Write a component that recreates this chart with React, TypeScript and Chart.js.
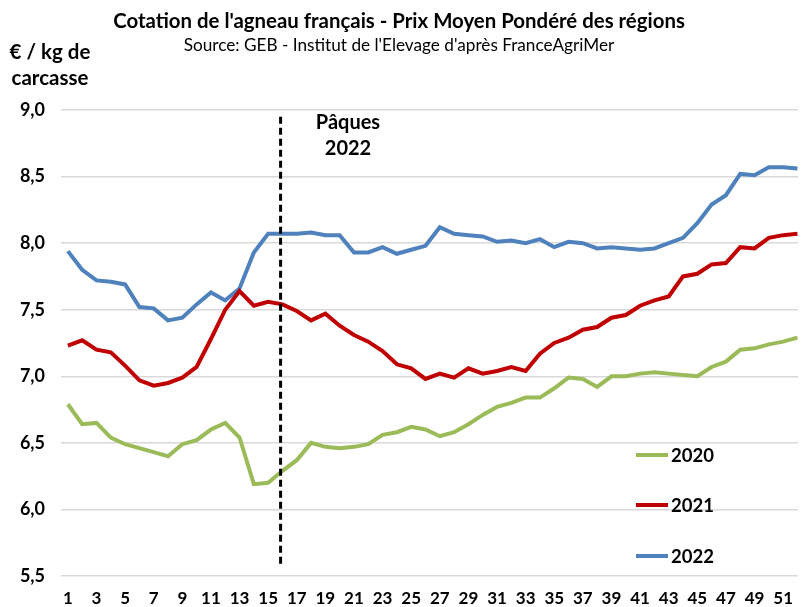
import React, { useEffect, useRef } from "react";
import { Chart, registerables } from "chart.js";

Chart.register(...registerables);

const weeks: number[] = Array.from({ length: 52 }, (_, i) => i + 1);
const xTickLabels: number[] = [1, 3, 5, 7, 9, 11, 13, 15, 17, 19, 21, 23, 25, 27, 29, 31, 33, 35, 37, 39, 41, 43, 45, 47, 49, 51];
const yTicks: number[] = [5.5, 6.0, 6.5, 7.0, 7.5, 8.0, 8.5, 9.0];

const series2020: number[] = [
  6.79, 6.64, 6.65, 6.54, 6.49, 6.46, 6.43, 6.40, 6.49, 6.52,
  6.60, 6.65, 6.54, 6.19, 6.20, 6.29, 6.37, 6.50, 6.47, 6.46,
  6.47, 6.49, 6.56, 6.58, 6.62, 6.60, 6.55, 6.58, 6.64, 6.71,
  6.77, 6.80, 6.84, 6.84, 6.91, 6.99, 6.98, 6.92, 7.00, 7.00,
  7.02, 7.03, 7.02, 7.01, 7.00, 7.07, 7.11, 7.20, 7.21, 7.24,
  7.26, 7.29,
];
const series2021: number[] = [
  7.23, 7.27, 7.20, 7.18, 7.08, 6.97, 6.93, 6.95, 6.99, 7.07,
  7.28, 7.50, 7.64, 7.53, 7.56, 7.54, 7.49, 7.42, 7.47, 7.38,
  7.31, 7.26, 7.19, 7.09, 7.06, 6.98, 7.02, 6.99, 7.06, 7.02,
  7.04, 7.07, 7.04, 7.17, 7.25, 7.29, 7.35, 7.37, 7.44, 7.46,
  7.53, 7.57, 7.60, 7.75, 7.77, 7.84, 7.85, 7.97, 7.96, 8.04,
  8.06, 8.07,
];
const series2022: number[] = [
  7.94, 7.80, 7.72, 7.71, 7.69, 7.52, 7.51, 7.42, 7.44, 7.54,
  7.63, 7.57, 7.66, 7.93, 8.07, 8.07, 8.07, 8.08, 8.06, 8.06,
  7.93, 7.93, 7.97, 7.92, 7.95, 7.98, 8.12, 8.07, 8.06, 8.05,
  8.01, 8.02, 8.00, 8.03, 7.97, 8.01, 8.00, 7.96, 7.97, 7.96,
  7.95, 7.96, 8.00, 8.04, 8.15, 8.29, 8.36, 8.52, 8.51, 8.57,
  8.57, 8.56,
];
const seriesNames: string[] = ["2020", "2021", "2022"];
const seriesColors: string[] = ["#9BBB59", "#C00000", "#4F81BD"];

const easterWeek = 15.87;
const easterRange: number[] = [8.95, 5.58];
const easterLabel: string[] = ["Pâques", "2022"];

const titleText = "Cotation de l'agneau français - Prix Moyen Pondéré des régions";
const subtitleText = "Source: GEB - Institut de l'Elevage d'après FranceAgriMer";
const yTitle: string[] = ["€ / kg de", "carcasse"];

const FONT = "Lato, Carlito, 'Open Sans', sans-serif";

const overlayPlugin = {
  id: "overlay",
  afterDraw(chart: any) {
    const ctx = chart.ctx as CanvasRenderingContext2D;
    const xs = chart.scales.x;
    const ys = chart.scales.y;
    ctx.save();
    ctx.fillStyle = "#000";
    ctx.textBaseline = "middle";
    ctx.textAlign = "center";
    ctx.font = `bold 20.4px ${FONT}`;
    ctx.fillText(titleText, 399, 21);
    ctx.font = `17.2px ${FONT}`;
    ctx.fillText(subtitleText, 399, 45);
    ctx.font = `bold 20.5px ${FONT}`;
    ctx.fillText(yTitle[0], 50, 52);
    ctx.fillText(yTitle[1], 50, 78);

    // Easter dashed line
    const ex = xs.getPixelForValue(easterWeek);
    ctx.strokeStyle = "#000";
    ctx.lineWidth = 3;
    ctx.setLineDash([7, 4]);
    ctx.beginPath();
    ctx.moveTo(ex, ys.getPixelForValue(easterRange[0]));
    ctx.lineTo(ex, ys.getPixelForValue(easterRange[1]));
    ctx.stroke();
    ctx.setLineDash([]);

    ctx.font = `bold 20px ${FONT}`;
    ctx.fillText(easterLabel[0], 348, 123);
    ctx.fillText(easterLabel[1], 348, 149);

    // Legend
    const legendY = [455, 505, 556];
    chart.data.datasets.forEach((ds: any, i: number) => {
      ctx.strokeStyle = ds.borderColor;
      ctx.lineWidth = 4;
      ctx.beginPath();
      ctx.moveTo(636, legendY[i]);
      ctx.lineTo(668, legendY[i]);
      ctx.stroke();
      ctx.textAlign = "left";
      ctx.fillStyle = "#000";
      ctx.font = `bold 18.5px ${FONT}`;
      ctx.fillText(ds.label, 671, legendY[i] + 1);
    });
    ctx.restore();
  },
};

export default function App() {
  const ref = useRef<HTMLCanvasElement | null>(null);
  useEffect(() => {
    if (!ref.current) return;
    const allSeries = [series2020, series2021, series2022];
    const chart = new Chart(ref.current, {
      type: "line",
      data: {
        datasets: allSeries.map((s, i) => ({
          label: seriesNames[i],
          data: weeks.map((w, j) => ({ x: w, y: s[j] })),
          borderColor: seriesColors[i],
          backgroundColor: seriesColors[i],
          borderWidth: 4,
          pointRadius: 0,
          tension: 0,
          fill: false,
        })),
      },
      options: {
        animation: false,
        responsive: false,
        layout: { padding: { top: 110, left: 0, right: 0, bottom: 0 } },
        plugins: {
          legend: { display: false },
          title: { display: false },
          tooltip: { enabled: false },
        },
        scales: {
          x: {
            type: "linear",
            min: 0.52,
            max: 52.04,
            grid: { display: false, drawTicks: false },
            border: { display: false },
            afterBuildTicks: (axis: any) => {
              axis.ticks = xTickLabels.map((v) => ({ value: v }));
            },
            afterFit: (axis: any) => {
              axis.height = 31;
            },
            ticks: {
              autoSkip: false,
              maxRotation: 0,
              padding: 12,
              color: "#000",
              font: { family: FONT, size: 17, weight: "bold" },
              callback: (v: any) => String(v),
            },
          },
          y: {
            min: 5.5,
            max: 9.0,
            afterBuildTicks: (axis: any) => {
              axis.ticks = yTicks.map((v) => ({ value: v }));
            },
            afterFit: (axis: any) => {
              axis.width = 61;
            },
            grid: { color: "#D9D9D9", lineWidth: 1.5, drawTicks: false },
            border: { display: false },
            ticks: {
              padding: 16,
              color: "#000",
              font: { family: FONT, size: 18, weight: "bold" },
              callback: (v: any) => Number(v).toFixed(1).replace(".", ","),
            },
          },
        },
      },
      plugins: [overlayPlugin],
    });
    return () => chart.destroy();
  }, []);
  return (
    <div style={{ position: "absolute", left: 0, top: 0, width: 805, height: 607, background: "#fff", overflow: "hidden" }}>
      <canvas ref={ref} width={805} height={607} />
    </div>
  );
}
